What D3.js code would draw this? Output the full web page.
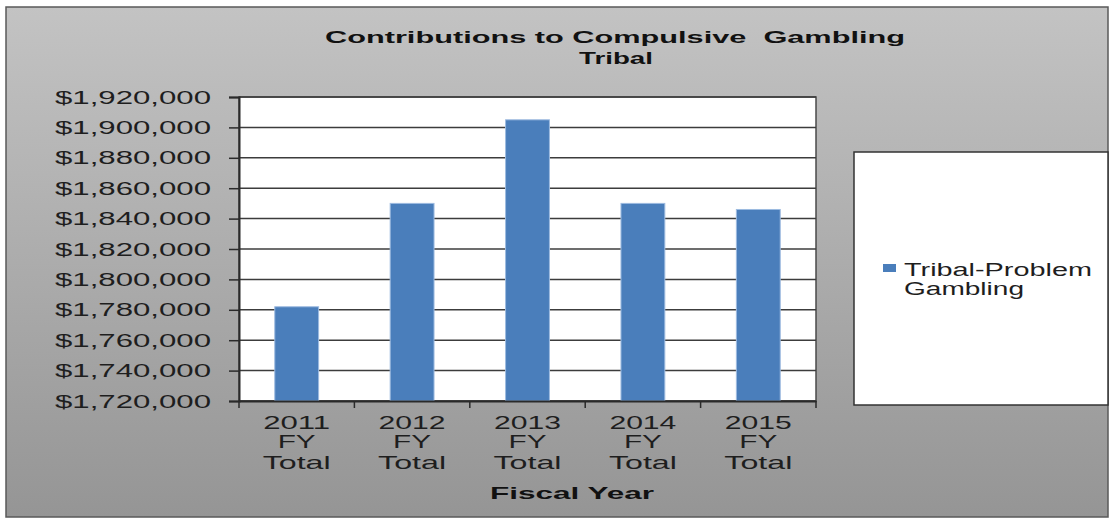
<!DOCTYPE html>
<html>
<head>
<meta charset="utf-8">
<script src="https://cdn.jsdelivr.net/npm/d3@7/dist/d3.min.js"></script>
<style>
  html, body { margin: 0; padding: 0; background: #fff; }
  svg { display: block; }
  text { font-family: "Liberation Sans", Arial, sans-serif; white-space: pre; }
</style>
</head>
<body>
<svg id="chart" width="1109" height="518"></svg>
<script>
const categories = ["2011 FY Total", "2012 FY Total", "2013 FY Total", "2014 FY Total", "2015 FY Total"];
const values = [1782000, 1850000, 1905000, 1850000, 1846000];
const seriesName = ["Tribal-Problem", "Gambling"];
const titleLines = ["Contributions to Compulsive  Gambling", "Tribal"];
const xAxisTitle = "Fiscal Year";
const yTicks = [1720000, 1740000, 1760000, 1780000, 1800000, 1820000, 1840000, 1860000, 1880000, 1900000, 1920000];

const svg = d3.select("#chart");
const defs = svg.append("defs");
const grad = defs.append("linearGradient").attr("id", "bg").attr("x1", 0).attr("y1", 0).attr("x2", 0).attr("y2", 1);
grad.append("stop").attr("offset", "0%").attr("stop-color", "#c3c3c3");
grad.append("stop").attr("offset", "100%").attr("stop-color", "#959595");

svg.append("rect").attr("x", 6).attr("y", 7).attr("width", 1102).attr("height", 510)
  .attr("fill", "url(#bg)").attr("stroke", "#5a5a5a").attr("stroke-width", 1.5);

const m = { left: 239, top: 97, right: 816, bottom: 401 };
const x = d3.scaleBand().domain(categories).range([m.left, m.right]).paddingInner(0.62).paddingOuter(0.31);
const xb = d3.scaleBand().domain(categories).range([m.left, m.right]);
const y = d3.scaleLinear().domain([1720000, 1920000]).range([m.bottom, m.top]);

// plot area
svg.append("rect").attr("x", m.left).attr("y", m.top).attr("width", m.right - m.left).attr("height", m.bottom - m.top)
  .attr("fill", "#fff").attr("stroke", "#4a4a4a").attr("stroke-width", 1.5);

// gridlines
svg.append("g").selectAll("line").data(yTicks).join("line")
  .attr("x1", m.left).attr("x2", m.right)
  .attr("y1", d => y(d)).attr("y2", d => y(d))
  .attr("stroke", "#3c3c3c").attr("stroke-width", 1.5);

// bars
svg.append("g").selectAll("rect").data(values).join("rect")
  .attr("x", (d, i) => x(categories[i]))
  .attr("width", x.bandwidth())
  .attr("y", d => y(d))
  .attr("height", d => y(1720000) - y(d))
  .attr("fill", "#4a7ebb").attr("stroke", "#9dbbe0").attr("stroke-width", 1);

// y axis
const yAxis = d3.axisLeft(y).tickValues(yTicks).tickSize(10).tickPadding(0).tickFormat(() => "");
const gy = svg.append("g").attr("transform", `translate(${m.left},0)`).call(yAxis);
gy.select(".domain").attr("stroke", "#2a2a2a").attr("stroke-width", 2);
gy.selectAll(".tick line").attr("stroke", "#2a2a2a").attr("stroke-width", 1.5);

const fmt = d3.format("$,");
svg.append("g").selectAll("text").data(yTicks).join("text")
  .attr("x", 211).attr("y", d => y(d) + 6.5)
  .attr("text-anchor", "end").attr("font-size", 18).attr("fill", "#1e1e1e")
  .attr("textLength", 156).attr("lengthAdjust", "spacingAndGlyphs")
  .text(d => fmt(d));

// x axis
const xAxis = d3.axisBottom(xb).tickSize(0).tickFormat(() => "");
const gx = svg.append("g").attr("transform", `translate(0,${m.bottom})`).call(xAxis);
gx.select(".domain").attr("stroke", "#2a2a2a").attr("stroke-width", 2);
const bounds = categories.map(c => xb(c)).concat([m.right]);
svg.append("g").selectAll("line").data(bounds).join("line")
  .attr("x1", d => d).attr("x2", d => d).attr("y1", m.bottom).attr("y2", m.bottom + 7)
  .attr("stroke", "#2a2a2a").attr("stroke-width", 1.5);

const lineWidths = [67, 38, 68];
const lineBase = [429, 448, 469];
const xl = svg.append("g");
categories.forEach(c => {
  c.split(" ").forEach((w, j) => {
    xl.append("text")
      .attr("x", xb(c) + xb.bandwidth() / 2).attr("y", lineBase[j])
      .attr("text-anchor", "middle").attr("font-size", 19).attr("fill", "#1e1e1e")
      .attr("textLength", lineWidths[j]).attr("lengthAdjust", "spacingAndGlyphs")
      .text(w);
  });
});

svg.append("text").attr("x", 572).attr("y", 499).attr("text-anchor", "middle")
  .attr("font-size", 17).attr("font-weight", "bold").attr("fill", "#111")
  .attr("textLength", 164).attr("lengthAdjust", "spacingAndGlyphs")
  .text(xAxisTitle);

// title
svg.append("text").attr("x", 615).attr("y", 43).attr("text-anchor", "middle")
  .attr("font-size", 17).attr("font-weight", "bold").attr("fill", "#111")
  .attr("textLength", 580).attr("lengthAdjust", "spacingAndGlyphs")
  .text(titleLines[0]);
svg.append("text").attr("x", 616).attr("y", 64).attr("text-anchor", "middle")
  .attr("font-size", 17).attr("font-weight", "bold").attr("fill", "#111")
  .attr("textLength", 74).attr("lengthAdjust", "spacingAndGlyphs")
  .text(titleLines[1]);

// legend
svg.append("rect").attr("x", 854).attr("y", 152).attr("width", 254).attr("height", 253)
  .attr("fill", "#fff").attr("stroke", "#333").attr("stroke-width", 1.5);
svg.append("rect").attr("x", 883).attr("y", 264).attr("width", 13).attr("height", 8)
  .attr("fill", "#4a7ebb");
svg.append("text").attr("x", 904).attr("y", 276).attr("font-size", 18).attr("fill", "#1e1e1e")
  .attr("textLength", 188).attr("lengthAdjust", "spacingAndGlyphs").text(seriesName[0]);
svg.append("text").attr("x", 904).attr("y", 295).attr("font-size", 18).attr("fill", "#1e1e1e")
  .attr("textLength", 120).attr("lengthAdjust", "spacingAndGlyphs").text(seriesName[1]);
</script>
</body>
</html>
